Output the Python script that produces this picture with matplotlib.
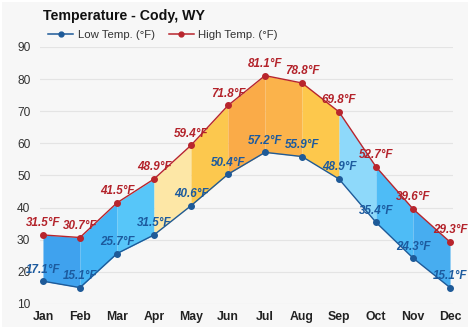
import matplotlib
matplotlib.use("Agg")
import matplotlib.pyplot as plt
from matplotlib.patches import Rectangle
from matplotlib.lines import Line2D

months = ["Jan", "Feb", "Mar", "Apr", "May", "Jun",
          "Jul", "Aug", "Sep", "Oct", "Nov", "Dec"]
low_temps = [17.1, 15.1, 25.7, 31.5, 40.6, 50.4, 57.2, 55.9, 48.9, 35.4, 24.3, 15.1]
high_temps = [31.5, 30.7, 41.5, 48.9, 59.4, 71.8, 81.1, 78.8, 69.8, 52.7, 39.6, 29.3]
y_ticks = [10, 20, 30, 40, 50, 60, 70, 80, 90]

# fill colour of each band between consecutive months
band_colors = ["#3fa2ee", "#45b5f5", "#57c6f9", "#fde7a6", "#fcc84e", "#faab48",
               "#fbb34b", "#fdc84c", "#8ed9fa", "#4ebcf6", "#47adf0"]

FONT = "Liberation Sans"
plt.rcParams["font.family"] = [FONT, "DejaVu Sans"]

W, H = 474, 331
fig = plt.figure(figsize=(W / 100, H / 100), dpi=100, facecolor="white")
fig.patches.append(Rectangle((2 / W, 4 / H), 466 / W, 325 / H, transform=fig.transFigure,
                             facecolor="#f7f7f7", edgecolor="none", zorder=-10))

ax = fig.add_axes([40 / W, 27 / H, 413 / W, 257 / H])
ax.set_facecolor("none")

x = list(range(len(months)))
for i, c in enumerate(band_colors):
    ax.fill_between(x[i:i + 2], low_temps[i:i + 2], high_temps[i:i + 2],
                    color=c, linewidth=0, zorder=2)

low_color = "#1e5a98"
high_color = "#b8252d"
ax.plot(x, low_temps, color=low_color, lw=1.0, marker="o", ms=4, zorder=4)
ax.plot(x, high_temps, color=high_color, lw=1.0, marker="o", ms=4, zorder=4)

for xi, v in zip(x, high_temps):
    ax.annotate(f"{v}°F", (xi, v), xytext=(0, 4), textcoords="offset points",
                ha="center", va="bottom", fontsize=8.4, fontweight="bold",
                fontstyle="italic", color="#b3222a", zorder=6, annotation_clip=False)
for xi, v in zip(x, low_temps):
    ax.annotate(f"{v}°F", (xi, v), xytext=(0, 4), textcoords="offset points",
                ha="center", va="bottom", fontsize=8.4, fontweight="bold",
                fontstyle="italic", color="#1c5a9e", zorder=6, annotation_clip=False)

ax.set_xlim(-0.08, 11.08)
ax.set_ylim(10, 90)
ax.set_yticks(y_ticks)
ax.set_xticks(x)
ax.set_xticklabels(months, fontweight="bold", fontsize=8.8, color="#222222")
ax.tick_params(axis="y", length=0, pad=7, labelsize=8.6, labelcolor="#333333")
ax.tick_params(axis="x", length=0, pad=5)
ax.grid(axis="y", color="#e4e4e4", lw=0.8, zorder=0)
for s in ax.spines.values():
    s.set_visible(False)

fig.text(43 / W, 1 - 16 / H, "Temperature - Cody, WY", fontsize=10.2, fontweight="bold",
         color="#111111", ha="left", va="center")

handles = [Line2D([], [], color=low_color, lw=1.1, marker="o", ms=3.5),
           Line2D([], [], color=high_color, lw=1.1, marker="o", ms=3.5)]
fig.legend(handles, ["Low Temp. (°F)", "High Temp. (°F)"], loc="center left",
           bbox_to_anchor=(38 / W, 1 - 35 / H), ncol=2, frameon=False, fontsize=8.2,
           handlelength=2.2, handletextpad=0.4, columnspacing=1.2, labelcolor="#333333")

fig.savefig("out.png", dpi=100, facecolor="white")
